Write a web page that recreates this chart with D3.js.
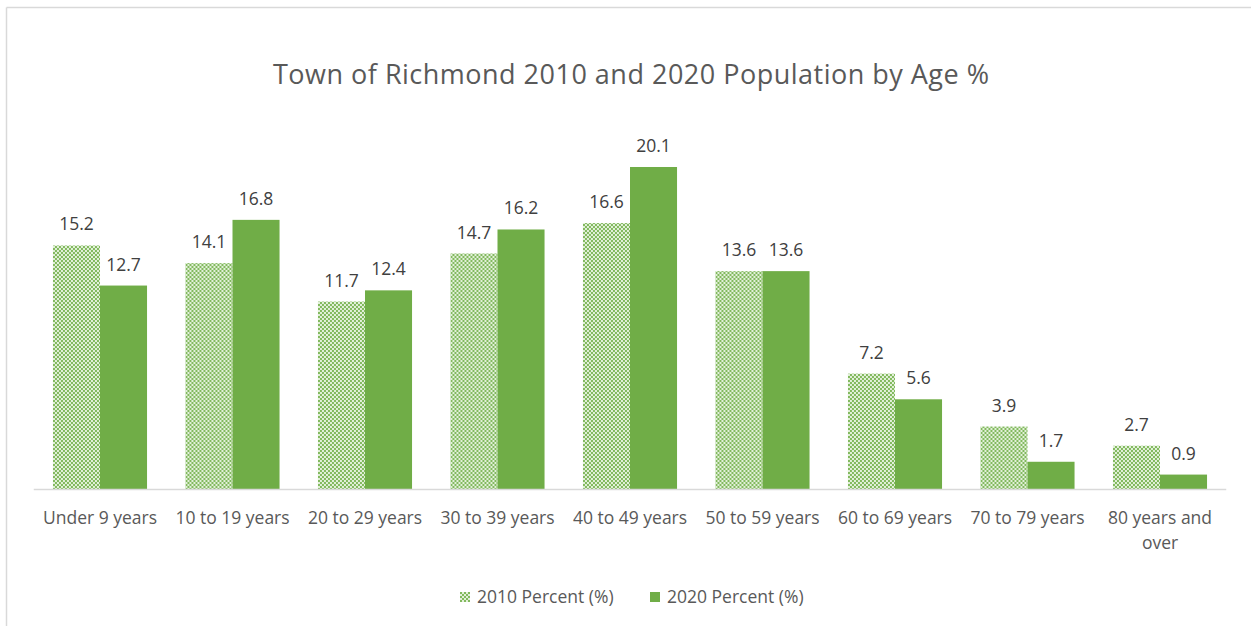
<!DOCTYPE html>
<html>
<head>
<meta charset="utf-8">
<script src="https://cdn.jsdelivr.net/npm/d3@7"></script>
<style>
  html, body { margin: 0; padding: 0; background: #fff; }
  svg { display: block; font-family: "Open Sans", "Noto Sans", sans-serif; }
  svg text { font-family: "Open Sans", "Noto Sans", sans-serif; }
</style>
</head>
<body>
<svg id="chart" width="1251" height="626"></svg>
<script>
// Age groups and share of population (%) for each census year
const categories = ["Under 9 years", "10 to 19 years", "20 to 29 years", "30 to 39 years",
  "40 to 49 years", "50 to 59 years", "60 to 69 years", "70 to 79 years", "80 years and over"];
const percent2010 = [15.2, 14.1, 11.7, 14.7, 16.6, 13.6, 7.2, 3.9, 2.7];
const percent2020 = [12.7, 16.8, 12.4, 16.2, 20.1, 13.6, 5.6, 1.7, 0.9];
const seriesNames = ["2010 Percent (%)", "2020 Percent (%)"];
const titleText = "Town of Richmond 2010 and 2020 Population by Age %";

const svg = d3.select("#chart");
const green = "#70ad47";
const fontSize = 17.5;

// Checkered fill for the 2010 series
const defs = svg.append("defs");
const pat = defs.append("pattern").attr("id", "check")
  .attr("patternUnits", "userSpaceOnUse").attr("width", 4).attr("height", 4);
pat.append("rect").attr("width", 4).attr("height", 4).attr("fill", "#e2f0d9");
pat.append("rect").attr("x", 0).attr("y", 0).attr("width", 2).attr("height", 2).attr("fill", "#82b95e");
pat.append("rect").attr("x", 2).attr("y", 2).attr("width", 2).attr("height", 2).attr("fill", "#82b95e");

// Chart frame (top and left edges)
svg.append("line").attr("x1", 6.5).attr("x2", 1251).attr("y1", 7.5).attr("y2", 7.5)
  .attr("stroke", "#d9d9d9").attr("stroke-width", 1.5);
svg.append("line").attr("x1", 6.5).attr("x2", 6.5).attr("y1", 7.5).attr("y2", 626)
  .attr("stroke", "#d9d9d9").attr("stroke-width", 1.5);

// Title
svg.append("text").attr("x", 631).attr("y", 84).attr("text-anchor", "middle")
  .attr("font-size", 27).attr("fill", "#595959")
  .attr("textLength", 716).attr("lengthAdjust", "spacing").text(titleText);

// Scales
const x0 = d3.scaleBand().domain(categories).range([33.75, 1226.25]).paddingInner(0.29).paddingOuter(0.145);
const x1 = d3.scaleBand().domain([0, 1]).range([0, x0.bandwidth()]);
const y = d3.scaleLinear().domain([0, 25]).range([489, 88.5]);

const rows = categories.map((c, i) => ({ cat: c, vals: [percent2010[i], percent2020[i]] }));
const fills = ["url(#check)", green];

const groups = svg.append("g").selectAll("g").data(rows).join("g")
  .attr("transform", d => `translate(${x0(d.cat)},0)`);

groups.selectAll("rect").data(d => d.vals.map((v, k) => ({ v, k }))).join("rect")
  .attr("x", d => x1(d.k)).attr("width", x1.bandwidth())
  .attr("y", d => y(d.v)).attr("height", d => y(0) - y(d.v))
  .attr("fill", d => fills[d.k]);

groups.selectAll("text.val").data(d => d.vals.map((v, k) => ({ v, k }))).join("text")
  .attr("class", "val")
  .attr("x", d => x1(d.k) + x1.bandwidth() / 2)
  .attr("y", d => y(d.v) - 15)
  .attr("text-anchor", "middle").attr("font-size", fontSize).attr("fill", "#404040")
  .text(d => d3.format(".1f")(d.v));

// Category axis
const axis = svg.append("g").attr("transform", `translate(0,${y(0)})`)
  .call(d3.axisBottom(x0).tickSize(0).tickPadding(0))
  .attr("font-family", null).attr("font-size", null);
axis.select(".domain").attr("stroke", "#d9d9d9").attr("stroke-width", 1.5)
  .attr("d", `M33.75,0.5H1226.25`);
axis.selectAll(".tick text").remove();
axis.selectAll(".tick").each(function (d) {
  const t = d3.select(this).append("text").attr("fill", "#595959").attr("font-size", fontSize)
    .attr("text-anchor", "middle");
  const lines = d === "80 years and over" ? ["80 years and", "over"] : [d];
  lines.forEach((ln, i) => t.append("tspan").attr("x", 0).attr("y", 35 + i * 25).text(ln));
});

// Legend
const legend = svg.append("g");
const legendItems = [{ name: seriesNames[0], fill: fills[0], x: 460 }, { name: seriesNames[1], fill: fills[1], x: 650 }];
legendItems.forEach(it => {
  legend.append("rect").attr("x", it.x).attr("y", 592).attr("width", 10).attr("height", 10).attr("fill", it.fill);
  legend.append("text").attr("x", it.x + 17).attr("y", 603).attr("font-size", fontSize)
    .attr("fill", "#595959").text(it.name);
});
</script>
</body>
</html>
